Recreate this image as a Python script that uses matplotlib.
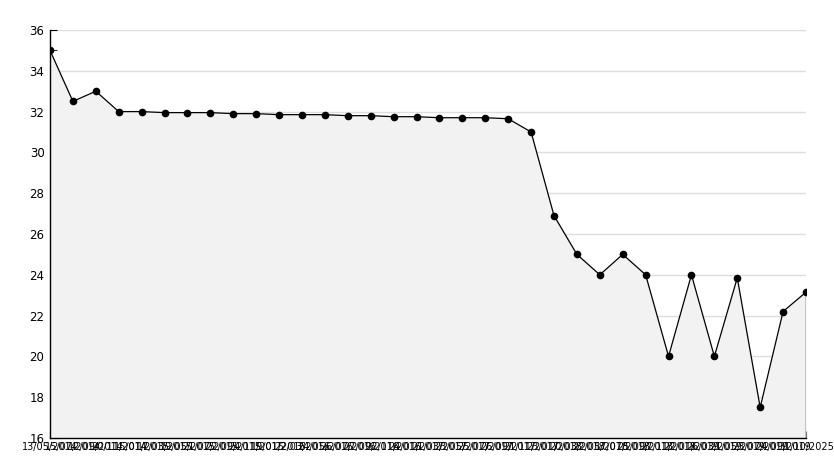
import matplotlib
matplotlib.use("Agg")
import matplotlib.pyplot as plt
from matplotlib.ticker import MultipleLocator

# dates on the x axis (one per point)
dates = [
    "13/05/2014", "15/07/2014", "12/09/2014", "20/11/2014", "15/01/2015",
    "17/03/2015", "19/05/2015", "21/07/2015", "22/09/2015", "24/11/2015",
    "19/01/2016", "22/03/2016", "24/05/2016", "26/07/2016", "27/09/2016",
    "22/11/2016", "24/01/2017", "21/03/2017", "23/05/2017", "25/07/2017",
    "26/09/2017", "21/11/2017", "23/01/2018", "20/03/2018", "22/05/2018",
    "17/07/2018", "25/09/2018", "27/11/2018", "22/01/2019", "26/03/2019",
    "21/05/2019", "23/07/2019", "24/09/2019", "31/10/2025",
]
values = [
    35.0, 32.5, 33.0, 32.0, 32.0, 31.95, 31.95, 31.95, 31.9, 31.9,
    31.85, 31.85, 31.85, 31.8, 31.8, 31.75, 31.75, 31.7, 31.7, 31.7,
    31.65, 31.0, 26.9, 25.0, 24.0, 25.0, 24.0, 20.0, 24.0, 20.0,
    23.85, 17.5, 22.2, 23.15,
]

plt.rcParams["font.family"] = ["DejaVu Sans"]

fig = plt.figure(figsize=(8.34, 4.68), dpi=100)
ax = fig.add_axes([50 / 834, 1 - 438 / 468, 756 / 834, 408 / 468])

x = list(range(len(values)))
ax.fill_between(x, values, 16, color="#f2f2f2", zorder=2, linewidth=0)
ax.plot([x[-1], x[-1]], [16, values[-1]], color="black", lw=1, zorder=3)
ax.plot(x, values, color="black", lw=0.9, marker="o", markersize=4.5,
        zorder=4)

ax.set_xlim(0, len(values) - 1)
ax.set_ylim(16, 36)
ax.yaxis.set_major_locator(MultipleLocator(2))
ax.yaxis.set_minor_locator(MultipleLocator(1))
ax.grid(axis="y", which="major", color="#dddddd", lw=1, zorder=1)
ax.set_axisbelow(True)

ax.set_xticks(x)
ax.set_xticklabels(dates)
ax.tick_params(axis="x", direction="in", length=5, labelsize=7, pad=3,
               color="black")
ax.tick_params(axis="y", which="both", direction="in", length=5,
               labelsize=8.5, pad=4)

for side in ("top", "right"):
    ax.spines[side].set_visible(False)
for side in ("left", "bottom"):
    ax.spines[side].set_linewidth(1)
    ax.spines[side].set_zorder(5)

fig.savefig("out.png", dpi=100)
